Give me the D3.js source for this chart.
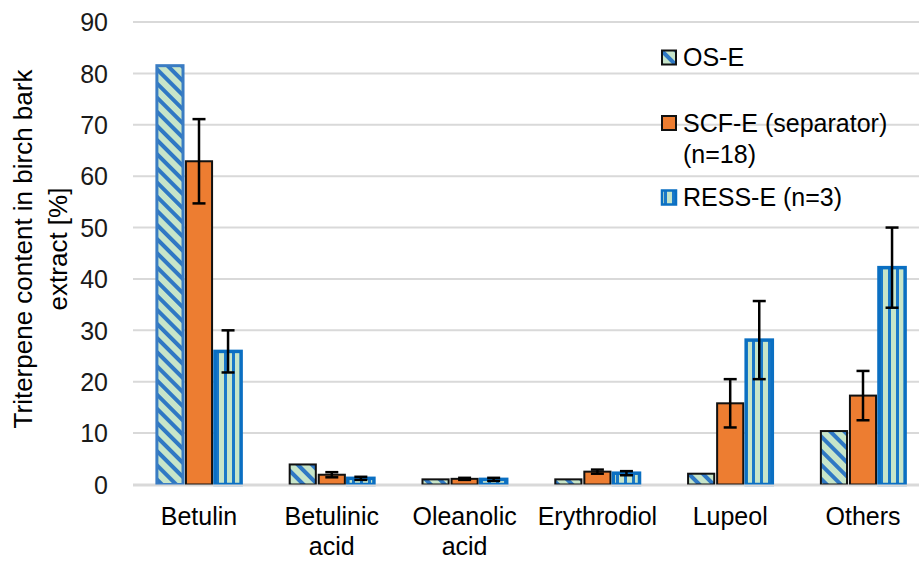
<!DOCTYPE html>
<html>
<head>
<meta charset="utf-8">
<script src="https://cdn.jsdelivr.net/npm/d3@7"></script>
<style>
  html, body { margin: 0; padding: 0; background: #fff; }
  svg { display: block; font-family: "Liberation Sans", Arial, sans-serif; }
</style>
</head>
<body>
<svg id="chart" width="919" height="561"></svg>
<script>
// ---- data ----
const categories = ["Betulin", "Betulinic acid", "Oleanolic acid", "Erythrodiol", "Lupeol", "Others"];
const categoryLabelLines = [["Betulin"], ["Betulinic", "acid"], ["Oleanolic", "acid"], ["Erythrodiol"], ["Lupeol"], ["Others"]];
const seriesNames = ["OS-E", "SCF-E (separator) (n=18)", "RESS-E (n=3)"];
const legendLines = [["OS-E"], ["SCF-E (separator)", "(n=18)"], ["RESS-E (n=3)"]];
const osE = [81.5, 3.9, 1.0, 1.0, 2.1, 10.4];
const scfE = [62.9, 1.9, 1.1, 2.5, 15.8, 17.3];
const scfErr = [8.2, 0.5, 0.2, 0.4, 4.7, 4.8];
const ressE = [25.9, 1.2, 1.0, 2.2, 28.1, 42.2];
const ressErr = [4.1, 0.3, 0.3, 0.4, 7.6, 7.8];
const yTicks = [0, 10, 20, 30, 40, 50, 60, 70, 80, 90];

const seriesValues = [osE, scfE, ressE];
const seriesErrors = [null, scfErr, ressErr];

const svg = d3.select("#chart");
const defs = svg.append("defs");

// patterns
const pOS = defs.append("pattern").attr("id", "patOS").attr("patternUnits", "userSpaceOnUse")
  .attr("width", 10).attr("height", 10).attr("patternTransform", "rotate(-45)");
pOS.append("rect").attr("width", 10).attr("height", 10).attr("fill", "#c7e5c9");
pOS.append("rect").attr("x", 0).attr("y", 0).attr("width", 4).attr("height", 10).attr("fill", "#2f78c4");

const pR = defs.append("pattern").attr("id", "patRESS").attr("patternUnits", "userSpaceOnUse")
  .attr("width", 8).attr("height", 10);
pR.append("rect").attr("width", 8).attr("height", 10).attr("fill", "#c7e5c9");
pR.append("rect").attr("x", 0).attr("width", 3).attr("height", 10).attr("fill", "#1a78c8");

const fills = ["url(#patOS)", "#ed7d31", "url(#patRESS)"];

// scales
const y = d3.scaleLinear().domain([0, 90]).range([484.5, 22]);
const x = d3.scaleBand().domain(categories).range([132.6, 929.4]).paddingInner(0.322).paddingOuter(0.161);
const xs = d3.scaleBand().domain(d3.range(3)).range([0, x.bandwidth()]).padding(0.1);

// gridlines
svg.append("g").selectAll("line").data(yTicks).join("line")
  .attr("x1", 133).attr("x2", 919)
  .attr("y1", d => y(d)).attr("y2", d => y(d))
  .attr("stroke", "#d9d9d9").attr("stroke-width", 2);

// y axis labels
const yAxis = svg.append("g").attr("transform", "translate(108,0)")
  .call(d3.axisLeft(y).tickValues(yTicks).tickSize(0).tickPadding(0));
yAxis.select(".domain").remove();
yAxis.selectAll("text").attr("font-size", 25).attr("fill", "#1a1a1a")
  .attr("font-family", "Liberation Sans, Arial, sans-serif").attr("x", 0).attr("dy", "0.35em");

// bars
const barsG = svg.append("g");
seriesValues.forEach((vals, si) => {
  const g = barsG.append("g");
  g.selectAll("rect").data(vals).join("rect")
    .attr("x", (d, i) => x(categories[i]) + xs(si))
    .attr("width", xs.bandwidth())
    .attr("y", d => y(d))
    .attr("height", d => y(0) - y(d))
    .attr("fill", fills[si])
    .attr("stroke", (d, i) => si === 1 ? "#111" : (si === 2 ? "#0a6fc2" : (i === 0 ? "#3a7cc3" : "#111")))
    .attr("stroke-width", (d, i) => si === 2 ? 3.5 : (si === 0 && i === 0 ? 3 : 2));
});

// axis baseline
svg.append("line").attr("x1", 133).attr("x2", 919).attr("y1", y(0) + 1).attr("y2", y(0) + 1)
  .attr("stroke", "#d9d9d9").attr("stroke-width", 2);

// error bars
const errG = svg.append("g").attr("stroke", "#000").attr("stroke-width", 2.5);
seriesValues.forEach((vals, si) => {
  const errs = seriesErrors[si];
  if (!errs) return;
  vals.forEach((v, i) => {
    const cx = x(categories[i]) + xs(si) + xs.bandwidth() / 2;
    const top = y(v + errs[i]), bot = y(v - errs[i]);
    errG.append("line").attr("x1", cx).attr("x2", cx).attr("y1", top).attr("y2", bot);
    errG.append("line").attr("x1", cx - 6.5).attr("x2", cx + 6.5).attr("y1", top).attr("y2", top);
    errG.append("line").attr("x1", cx - 6.5).attr("x2", cx + 6.5).attr("y1", bot).attr("y2", bot);
  });
});

// category labels
const catG = svg.append("g");
categories.forEach((c, i) => {
  const t = catG.append("text")
    .attr("x", x(c) + x.bandwidth() / 2).attr("y", 525)
    .attr("text-anchor", "middle").attr("font-size", 25).attr("fill", "#000");
  categoryLabelLines[i].forEach((ln, j) => {
    t.append("tspan").attr("x", x(c) + x.bandwidth() / 2).attr("dy", j === 0 ? 0 : 30).text(ln);
  });
});

// y title
const title = svg.append("text").attr("transform", "translate(0,249) rotate(-90)")
  .attr("text-anchor", "middle").attr("font-size", 26).attr("fill", "#000");
title.append("tspan").attr("x", 0).attr("y", 32).text("Triterpene content in birch bark");
title.append("tspan").attr("x", 0).attr("y", 67).text("extract [%]");

// legend
const legendY = [57.5, 123, 197.5];
const legG = svg.append("g");
seriesNames.forEach((s, i) => {
  const ly = legendY[i];
  legG.append("rect").attr("x", 662).attr("y", ly - 7).attr("width", 14).attr("height", 14)
    .attr("fill", fills[i]).attr("stroke", i === 2 ? "#0a6fc2" : "#111").attr("stroke-width", i === 2 ? 2.5 : 2);
  const t = legG.append("text").attr("x", 683).attr("y", ly).attr("dy", "0.35em")
    .attr("font-size", 25).attr("fill", "#000");
  legendLines[i].forEach((ln, j) => {
    t.append("tspan").attr("x", 683).attr("dy", j === 0 ? "0.35em" : 31).text(ln);
  });
});
</script>
</body>
</html>
